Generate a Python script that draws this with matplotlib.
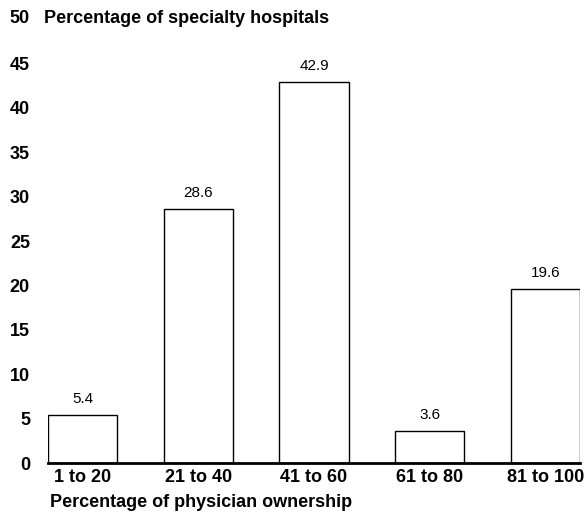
import matplotlib
matplotlib.use("Agg")
import matplotlib.pyplot as plt

plt.rcParams['font.family'] = ['Liberation Sans', 'DejaVu Sans']

categories = ["1 to 20", "21 to 40", "41 to 60", "61 to 80", "81 to 100"]
values = [5.4, 28.6, 42.9, 3.6, 19.6]
yticks = [0, 5, 10, 15, 20, 25, 30, 35, 40, 45, 50]

fig = plt.figure(figsize=(5.86, 5.19), dpi=100)
ax = fig.add_axes([48/586, 56/519, 532/586, 444/519])

x = list(range(len(categories)))
ax.bar(x, values, width=0.6, color='white', edgecolor='black', linewidth=1.0, zorder=2)
for xi, v in zip(x, values):
    ax.text(xi, v + 1.0, f"{v:.1f}", ha='center', va='bottom', fontsize=11)

ax.set_xlim(-0.3, 4.3)
ax.set_ylim(0, 50)
ax.set_yticks(yticks[:-1])
ax.set_yticklabels([str(t) for t in yticks[:-1]], fontweight='bold', fontsize=13)
ax.set_xticks(x)
ax.set_xticklabels(categories, fontweight='bold', fontsize=13)
ax.tick_params(axis='y', length=0, pad=13)
ax.tick_params(axis='x', length=0, pad=4)

for s in ['top', 'right', 'left']:
    ax.spines[s].set_visible(False)
ax.spines['bottom'].set_linewidth(2)
ax.spines['bottom'].set_zorder(3)

# top tick "50" together with the y-axis title
ax.text(-18/532, 50, "50", transform=ax.get_yaxis_transform(), ha='right', va='center',
        fontweight='bold', fontsize=13, clip_on=False)
ax.text(-4/532, 50, "Percentage of specialty hospitals", transform=ax.get_yaxis_transform(),
        ha='left', va='center', fontweight='bold', fontsize=13, clip_on=False)

ax.set_xlabel("Percentage of physician ownership", fontweight='bold', fontsize=13)
ax.xaxis.set_label_coords(2/532, -0.09)
ax.xaxis.label.set_ha('left')
ax.xaxis.label.set_va('center')

fig.savefig("out.png", dpi=100)
